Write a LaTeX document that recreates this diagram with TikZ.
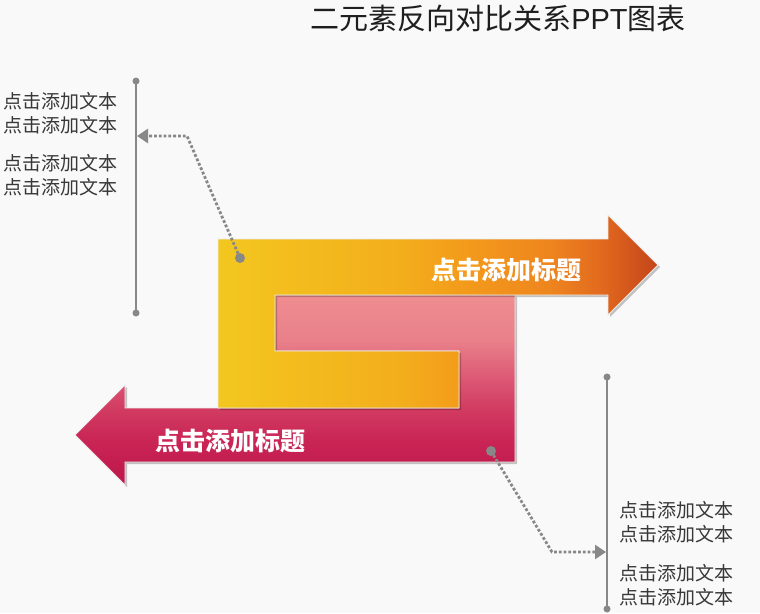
\documentclass[tikz,border=0pt]{standalone}
\usepackage{fontspec}
\newfontfamily\cjk{Noto Sans CJK SC}
\newfontfamily\lat{Liberation Sans}
\usetikzlibrary{arrows.meta,shadows}
\definecolor{bg}{HTML}{F9F9F9}
\definecolor{ln}{HTML}{888888}
\definecolor{tx}{HTML}{383838}
\definecolor{ttl}{HTML}{1E1E1E}
\definecolor{o1}{HTML}{F3C71F}
\definecolor{o2}{HTML}{F3AE1C}
\definecolor{o3}{HTML}{F39C1B}
\definecolor{o4}{HTML}{EE851E}
\definecolor{o5}{HTML}{E26A1E}
\definecolor{o6}{HTML}{C4441A}
\definecolor{p1}{HTML}{EF8D90}
\definecolor{p2}{HTML}{E9808A}
\definecolor{p3}{HTML}{DC5774}
\definecolor{p4}{HTML}{D23C62}
\definecolor{p5}{HTML}{C92555}
\definecolor{p6}{HTML}{BE164B}
\pgfdeclarehorizontalshading{orangesh}{100bp}{color(0bp)=(o1); color(25bp)=(o1); color(45.7bp)=(o2); color(52.4bp)=(o3); color(62.7bp)=(o4); color(68.4bp)=(o5); color(75bp)=(o6); color(100bp)=(o6)}
\pgfdeclareverticalshading{pinksh}{100bp}{color(0bp)=(p6); color(25bp)=(p6); color(36.8bp)=(p5); color(45.3bp)=(p4); color(52.6bp)=(p3); color(63.2bp)=(p2); color(75bp)=(p1); color(100bp)=(p1)}
\tikzset{
  bigshape/.style={draw=white!85!gray, line width=0.9pt,
    drop shadow={shadow xshift=2pt, shadow yshift=-2pt, opacity=0.22, fill=black}},
  vline/.style={draw=ln, line width=2pt},
  enddot/.style={circle, fill=ln, inner sep=0pt, minimum size=7pt},
  bigdot/.style={circle, fill=ln, inner sep=0pt, minimum size=10pt},
  dotline/.style={draw=ln, line width=2.8pt, dash pattern=on 2.8pt off 2pt,
    -{Triangle[length=11pt,width=14pt]}},
  small/.style={font=\cjk\fontsize{19}{24}\selectfont, text=tx, inner sep=0pt},
  label/.style={font=\cjk\bfseries\fontsize{25}{30}\selectfont, text=white, inner sep=0pt}
}
\begin{document}
\begin{tikzpicture}[x=1pt,y=-1pt]
\fill[bg] (0,0) rectangle (760,613);
\useasboundingbox (0,0) rectangle (760,613);
% title
\node[font=\cjk\fontsize{29}{34}\selectfont, text=ttl, inner sep=0pt] (title) at (498,18) {二元素反向对比关系{\lat PPT}图表};
% pink shape
\path[bigshape, shading=pinksh]
  (275,295) -- (515,295) -- (515,462) -- (125,462) -- (125,485) -- (75,435)
  -- (125,385) -- (125,408) -- (459,408) -- (459,351) -- (275,351) -- cycle;
% orange shape
\path[bigshape, shading=orangesh]
  (218,239) -- (608,239) -- (608,215) -- (658,265) -- (608,315) -- (608,295)
  -- (275,295) -- (275,351) -- (459,351) -- (459,408) -- (218,408) -- cycle;
\node[label] (lab1) at (506,270) {点击添加标题};
\node[label] (lab2) at (230,441) {点击添加标题};
% left bracket
\node[enddot] (ltop) at (136,81) {};
\node[enddot] (lbot) at (136,313) {};
\draw[vline] (ltop.center) -- (lbot.center);
\node[small, anchor=east] (lt1) at (118,101) {点击添加文本};
\node[small, anchor=east] (lt2) at (118,125) {点击添加文本};
\node[small, anchor=east] (lt3) at (118,163) {点击添加文本};
\node[small, anchor=east] (lt4) at (118,187) {点击添加文本};
\node[bigdot] (ld) at (240,258) {};
\coordinate (lc) at (187,136);
\coordinate (la) at (137,136);
\draw[dotline] (ld.center) -- (lc) -- (la);
% right bracket
\node[enddot] (rtop) at (607,377) {};
\node[enddot] (rbot) at (607,609) {};
\draw[vline] (rtop.center) -- (rbot.center);
\node[small, anchor=west] (rt1) at (619,510) {点击添加文本};
\node[small, anchor=west] (rt2) at (619,534) {点击添加文本};
\node[small, anchor=west] (rt3) at (619,573) {点击添加文本};
\node[small, anchor=west] (rt4) at (619,597) {点击添加文本};
\node[bigdot] (rd) at (491,451) {};
\coordinate (rc) at (552,552);
\coordinate (ra) at (606,552);
\draw[dotline] (rd.center) -- (rc) -- (ra);
\end{tikzpicture}
\end{document}
